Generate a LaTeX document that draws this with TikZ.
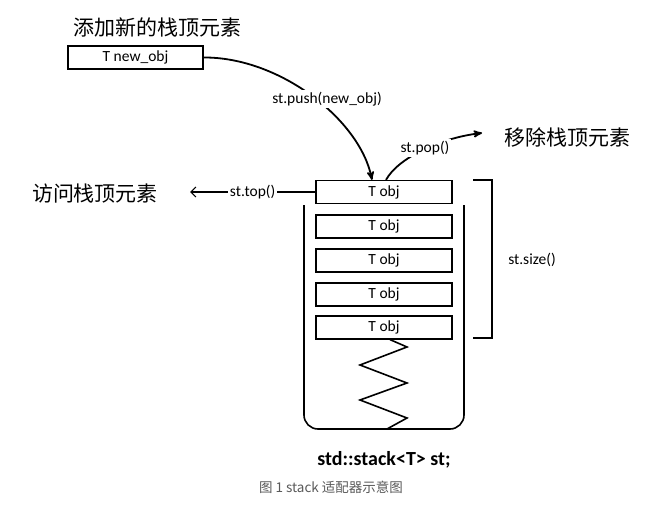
\documentclass[tikz,border=0pt]{standalone}
\usepackage{fontspec}
\setmainfont{Carlito}
\newfontfamily\cjk{Noto Sans CJK SC}
\usetikzlibrary{arrows,arrows.meta}

\begin{document}
\begin{tikzpicture}[
    x = 1pt,
    y = -1pt,
    thick,
    >=stealth',
    obj/.style = {
      draw,
      line width = 1.2pt,
      minimum width = 136pt,
      minimum height = 23pt,
      inner sep = 0pt,
      font = \fontsize{15.5}{15.5}\selectfont
    },
    tag/.style = {
      fill = white,
      inner sep = 2pt,
      font = \fontsize{15.5}{15.5}\selectfont
    },
    cjktitle/.style = {
      font = \cjk\fontsize{21}{21}\selectfont
    }
  ]
  \useasboundingbox (0,0) rectangle (665,511);

  \node[cjktitle] (addTitle) at (158,27) {添加新的栈顶元素};
  \node[cjktitle] (popTitle) at (567,137) {移除栈顶元素};
  \node[cjktitle] (topTitle) at (95,194) {访问栈顶元素};

  \node[obj, minimum width = 135pt] (newObj) at (135.5,57.5) {T new\_obj};

  \node[obj] (obj1) at (384,192) {T obj};
  \node[obj] (obj2) at (384,226.5) {T obj};
  \node[obj] (obj3) at (384,260.5) {T obj};
  \node[obj] (obj4) at (384,294.5) {T obj};
  \node[obj] (obj5) at (384,327.5) {T obj};

  \draw[line width = 1.6pt, rounded corners = 14pt]
    (304,205) -- (304,429) -- (464,429) -- (464,205);

  \draw[line width = 1.6pt] ([xshift = 6pt]obj5.south) -- (407,347) -- (360,365)
    -- (407,383) -- (360,400) -- (407,418) -- (387,429);

  \draw[line width = 1.3pt] (473,180) -- (492,180) -- (492,338) -- (473,338);
  \node[tag] (sizeLbl) at (532,260) {st.size()};

  \draw[->, line width = 1.8pt] (newObj.east)
    .. controls (280,57) and (360,120) .. ([xshift = -12pt]obj1.north);
  \node[tag] (pushLbl) at (327,99) {st.push(new\_obj)};

  \coordinate (popEnd) at (482,133);
  \draw[->, line width = 1.8pt] ([xshift = 2pt]obj1.north)
    .. controls (398,158) and (440,138) .. (popEnd);
  \node[tag] (popLbl) at (425,148) {st.pop()};

  \coordinate (topEnd) at (190,192);
  \draw[-{Straight Barb[length = 5pt, width = 10pt]}, line width = 1.2pt]
    (obj1.west) -- (topEnd) node[tag, midway] (topLbl) {st.top()};

  \node[font = \fontsize{20}{20}\selectfont\bfseries] (stackLbl) at (384,460)
    {std::stack<T> st;};
  \node[font = \cjk\fontsize{13.5}{13.5}\selectfont, text = black!65] (caption)
    at (331,487) {图 1 stack 适配器示意图};

\end{tikzpicture}
\end{document}
